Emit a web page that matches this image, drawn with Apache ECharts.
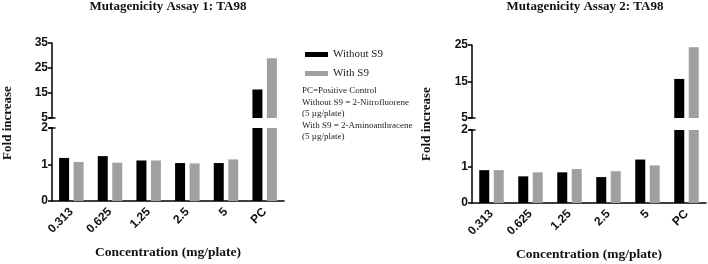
<!DOCTYPE html>
<html>
<head>
<meta charset="utf-8">
<script src="https://cdn.jsdelivr.net/npm/echarts@6/dist/echarts.min.js"></script>
<style>
  html, body { margin: 0; padding: 0; background: #fff; }
  #container { width: 708px; height: 264px; }
</style>
</head>
<body>
<div id="container"></div>
<script>
// data
var categories = ['0.313', '0.625', '1.25', '2.5', '5', 'PC'];
var assay1Without = [1.18, 1.23, 1.11, 1.04, 1.04, 16.4];
var assay1With = [1.07, 1.05, 1.11, 1.03, 1.14, 28.9];
var assay2Without = [0.90, 0.73, 0.84, 0.71, 1.19, 15.7];
var assay2With = [0.90, 0.84, 0.93, 0.87, 1.03, 24.4];
var seriesNames = ['Without S9', 'With S9'];
var titles = ['Mutagenicity Assay 1: TA98', 'Mutagenicity Assay 2: TA98'];
var noteLines = [
    'PC=Positive Control',
    'Without S9 = 2-Nitrofluorene',
    '(5 \u00b5g/plate)',
    'With S9 = 2-Aminoanthracene',
    '(5 \u00b5g/plate)'
];

var SERIF = "'Liberation Serif', 'Times New Roman', serif";
var SANS = "'Liberation Sans', Arial, sans-serif";
var colors = ['#000000', '#a0a0a0'];

var myChart = echarts.init(document.getElementById('container'));

// upper part of a broken axis only shows what is above the break
function upperPart(arr) {
    return arr.map(function (v) { return v > 5 ? v : '-'; });
}

function yAxisStyle(grid, min, max, cap) {
    return {
        type: 'value', gridIndex: grid, min: min, max: max, interval: min === 0 ? 1 : 10,
        splitLine: { show: false },
        axisLine: {
            show: true,
            lineStyle: { color: '#000', width: 1.5 },
            symbol: cap, symbolSize: [7, 1.5]
        },
        axisTick: { show: true, length: 4, lineStyle: { color: '#000', width: 1.5 } },
        axisLabel: { color: '#111', fontFamily: SANS, fontWeight: 'bold', fontSize: 12, margin: 4 }
    };
}

function xAxisStyle(grid, visible) {
    return {
        type: 'category', gridIndex: grid, data: categories, show: visible,
        axisLine: { lineStyle: { color: '#000', width: 1.5 } },
        axisTick: { alignWithLabel: true, length: 4, lineStyle: { color: '#000', width: 1.5 } },
        axisLabel: { rotate: 45, color: '#111', fontFamily: SANS, fontWeight: 'bold', fontSize: 12, margin: 9 },
        name: visible ? 'Concentration (mg/plate)' : '',
        nameLocation: 'middle', nameGap: 45,
        nameTextStyle: { fontFamily: SERIF, fontWeight: 'bold', fontSize: 13.5, color: '#111' }
    };
}

function bar(name, axis, data, color) {
    return {
        name: name, type: 'bar', xAxisIndex: axis, yAxisIndex: axis,
        data: data, barWidth: 10, barGap: '45%', clip: true,
        itemStyle: { color: color }
    };
}

var panels = [
    { left: 52, right: 424, upTop: 43, upBottom: 146, lowTop: 128, lowBottom: 63, upMax: 35, w: assay1Without, g: assay1With },
    { left: 472, right: 2, upTop: 45, upBottom: 146, lowTop: 130, lowBottom: 61, upMax: 25, w: assay2Without, g: assay2With }
];

var grids = [], xAxes = [], yAxes = [], series = [];
panels.forEach(function (p, i) {
    var up = i * 2, low = i * 2 + 1;
    grids.push({ left: p.left, right: p.right, top: p.upTop, bottom: p.upBottom });
    grids.push({ left: p.left, right: p.right, top: p.lowTop, bottom: p.lowBottom });
    xAxes.push(xAxisStyle(up, false));
    xAxes.push(xAxisStyle(low, true));
    yAxes.push(yAxisStyle(up, 5, p.upMax, ['rect', 'none']));
    yAxes.push(yAxisStyle(low, 0, 2, ['none', 'rect']));
    series.push(bar(seriesNames[0], up, upperPart(p.w), colors[0]));
    series.push(bar(seriesNames[1], up, upperPart(p.g), colors[1]));
    series.push(bar(seriesNames[0], low, p.w, colors[0]));
    series.push(bar(seriesNames[1], low, p.g, colors[1]));
});

var option = {
    animation: false,
    grid: grids,
    xAxis: xAxes,
    yAxis: yAxes,
    series: series,
    legend: {
        data: seriesNames,
        orient: 'vertical',
        left: 300, top: 44,
        icon: 'rect', itemWidth: 23, itemHeight: 5, itemGap: 8,
        textStyle: { fontFamily: SERIF, fontSize: 11, color: '#222' }
    },
    graphic: [
        { type: 'text', x: 168, y: 7, style: { text: titles[0], font: 'bold 13px ' + SERIF, fill: '#111', textAlign: 'center', textVerticalAlign: 'middle' } },
        { type: 'text', x: 585, y: 7, style: { text: titles[1], font: 'bold 13px ' + SERIF, fill: '#111', textAlign: 'center', textVerticalAlign: 'middle' } },
        { type: 'text', x: 8, y: 123, rotation: Math.PI / 2, style: { text: 'Fold increase', font: 'bold 13px ' + SERIF, fill: '#111', textAlign: 'center', textVerticalAlign: 'middle' } },
        { type: 'text', x: 427, y: 124, rotation: Math.PI / 2, style: { text: 'Fold increase', font: 'bold 13px ' + SERIF, fill: '#111', textAlign: 'center', textVerticalAlign: 'middle' } },
        { type: 'text', x: 302, y: 85, style: { text: noteLines.join('\n'), font: '9px ' + SERIF, lineHeight: 11.5, fill: '#222' } }
    ]
};
myChart.setOption(option);
</script>
</body>
</html>
